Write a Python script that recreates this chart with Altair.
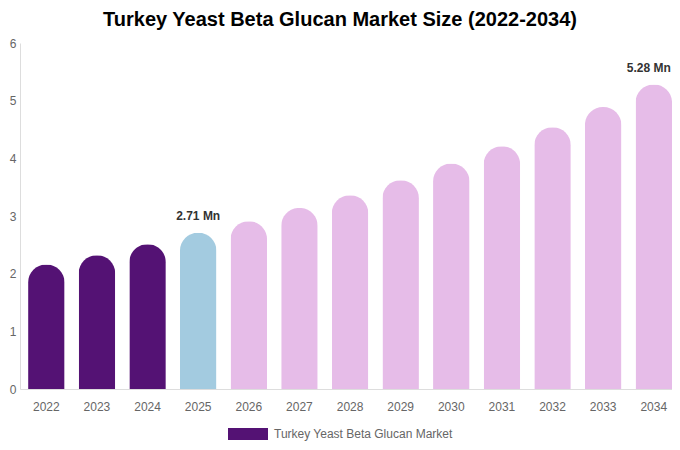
import altair as alt
import pandas as pd

years = [str(y) for y in range(2022, 2035)]
values = [2.16, 2.32, 2.51, 2.71, 2.91, 3.14, 3.36, 3.62, 3.91, 4.21, 4.54, 4.89, 5.28]
phases = ["hist", "hist", "hist", "base"] + ["fore"] * 9
labels = ["", "", "", "2.71 Mn"] + [""] * 8 + ["5.28 Mn"]
series_name = "Turkey Yeast Beta Glucan Market"
y_ticks = [0, 1, 2, 3, 4, 5, 6]

phase_domain = ["hist", "base", "fore"]
phase_colors = ["#541274", "#a3cbe0", "#e6bce8"]

df = pd.DataFrame({"year": years, "value": values, "phase": phases, "label": labels})
legend_df = pd.DataFrame({"year": [years[0]], "value": [0.0], "series": [series_name]})

x_enc = alt.X(
    "year:N",
    sort=years,
    scale=alt.Scale(paddingInner=0.28, paddingOuter=0.08, align=1),
    axis=alt.Axis(
        title=None, labelAngle=0, ticks=False, labelPadding=12, labelFontSize=12,
        labelColor="#666666", labelFont="Liberation Sans", domainColor="#dddddd",
        grid=False,
    ),
)
y_scale = alt.Scale(domain=[0, 6], nice=False)
y_axis = alt.Axis(
    title=None, values=y_ticks, format="d", ticks=False, labelPadding=4,
    labelFontSize=12, labelColor="#666666", labelFont="Liberation Sans",
    domainColor="#dddddd", grid=False, labelAlign="right",
)

bars = alt.Chart(df).mark_bar(
    size=36.5, cornerRadiusTopLeft=18, cornerRadiusTopRight=18
).encode(
    x=x_enc,
    y=alt.Y("value:Q", scale=y_scale, axis=y_axis),
    color=alt.Color("phase:N", scale=alt.Scale(domain=phase_domain, range=phase_colors), legend=None),
)

text_style = dict(baseline="bottom", dy=-10, fontSize=12, fontWeight="bold",
                  font="Liberation Sans", color="#333333")
text_enc = dict(
    x=alt.X("year:N", sort=years),
    y=alt.Y("value:Q", scale=y_scale),
    text="label:N",
)
text_mid = alt.Chart(df).transform_filter(
    "datum.label != '' && datum.year != '2034'"
).mark_text(**text_style).encode(**text_enc)
text_end = alt.Chart(df).transform_filter(
    "datum.label != '' && datum.year == '2034'"
).mark_text(dx=-5, **text_style).encode(**text_enc)

legend_layer = alt.Chart(legend_df).mark_bar(size=0).encode(
    x=alt.X("year:N", sort=years),
    y=alt.Y("value:Q", scale=y_scale),
    fill=alt.Fill(
        "series:N",
        scale=alt.Scale(domain=[series_name], range=[phase_colors[0]]),
        legend=alt.Legend(
            title=None, orient="none", legendX=208, legendY=371,
            symbolType="M-1,-0.3L1,-0.3L1,0.3L-1,0.3Z", symbolSize=1600,
            symbolStrokeWidth=0, symbolOpacity=1,
            labelFontSize=12, labelColor="#666666", labelLimit=400,
            labelFont="Liberation Sans", labelOffset=6,
        ),
    ),
)

chart = alt.layer(bars, text_mid, text_end, legend_layer).properties(
    width=652,
    height=346,
    padding={"left": 12, "top": 35, "right": 0, "bottom": 53},
    autosize=alt.AutoSizeParams(type="none"),
    title=alt.TitleParams(
        "Turkey Yeast Beta Glucan Market Size (2022-2034)",
        fontSize=20, fontWeight="bold", font="Liberation Sans", color="#000000",
        anchor="middle", dx=-6, offset=7,
    ),
).configure_view(stroke=None)

chart.save("out.html", embed_options={"renderer": "svg", "actions": False})
